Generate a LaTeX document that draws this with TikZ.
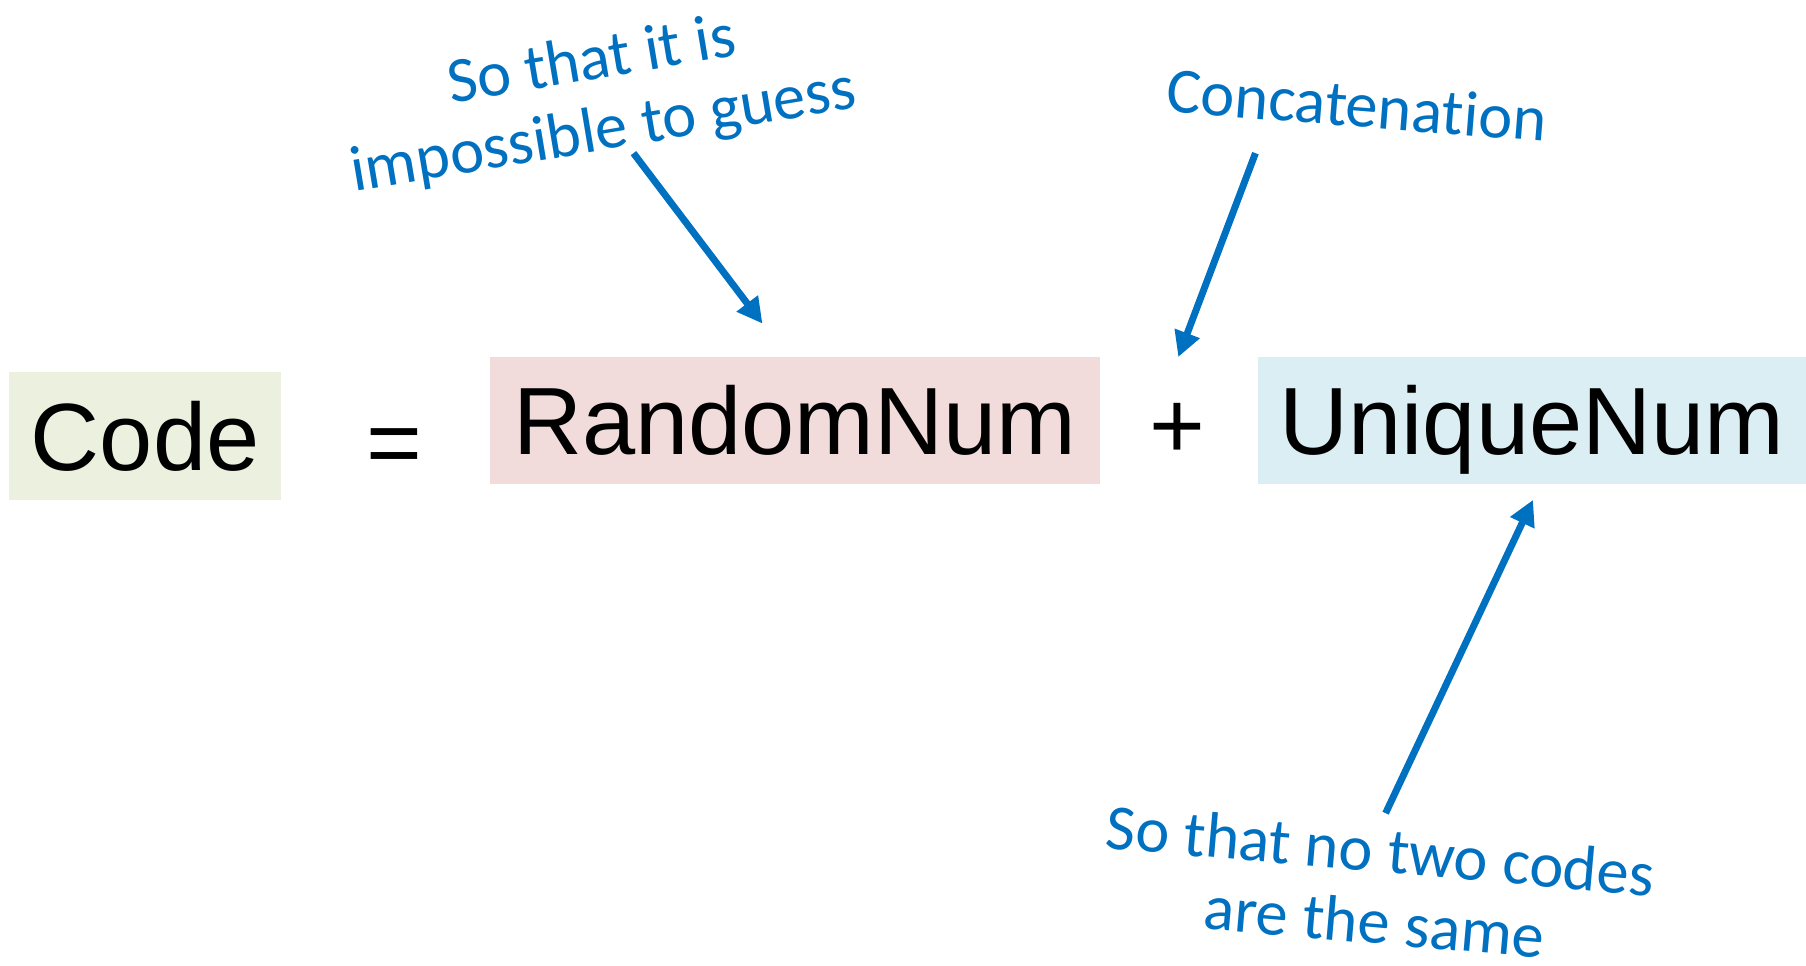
\documentclass[tikz,border=0pt]{standalone}
\usepackage{fontspec}
\setmainfont{Liberation Sans}
\newfontfamily\calib[Ligatures=NoCommon]{Carlito}
\usetikzlibrary{arrows.meta}
\definecolor{annblue}{HTML}{0070C0}
\definecolor{boxgreen}{HTML}{EBF1DE}
\definecolor{boxred}{HTML}{F2DCDB}
\definecolor{boxblue}{HTML}{DBEEF4}
\begin{document}
\begin{tikzpicture}[x=0.5pt,y=-0.5pt,
  term/.style={inner sep=0pt, font=\fontsize{41.5}{41.5}\selectfont, text height=29.7pt, text depth=0pt},
  termbox/.style={term, minimum height=55pt},
  ann/.style={text=annblue, align=center, inner sep=0pt, font=\calib\fontsize{28}{31}\selectfont},
  annarrow/.style={draw=annblue, line width=3pt, -{Triangle[length=11pt,width=11pt]}}
]
\useasboundingbox (0,0) rectangle (1568,838);
% terms
\node[termbox, fill=boxgreen, minimum width=118pt, minimum height=55.5pt] (code) at (126,378.5) {Code};
\node[term] (eq) at (342,383) {=};
\node[termbox, fill=boxred, minimum width=265pt] (rand) at (690,365) {RandomNum};
\node[term] (plus) at (1022,368) {+};
\node[termbox, fill=boxblue, minimum width=238pt] (uniq) at (1330,365) {UniqueNum};
% annotations
\node[ann, rotate=9.5] (l1) at (519,85) {So that it is\\impossible to guess};
\node[ann, rotate=-4.5] (l2) at (1178,91) {Concatenation};
\node[ann, rotate=-5] (l3) at (1196,769) {So that no two codes\\are the same};
% arrow end points
\coordinate (a1s) at (550,133);
\coordinate (a1e) at (662,281);
\coordinate (a2s) at (1090,133);
\coordinate (a2e) at (1023,310);
\coordinate (a3s) at (1203,706);
\coordinate (a3e) at (1331,434);
\draw[annarrow] (a1s) -- (a1e);
\draw[annarrow] (a2s) -- (a2e);
\draw[annarrow] (a3s) -- (a3e);
\end{tikzpicture}
\end{document}
